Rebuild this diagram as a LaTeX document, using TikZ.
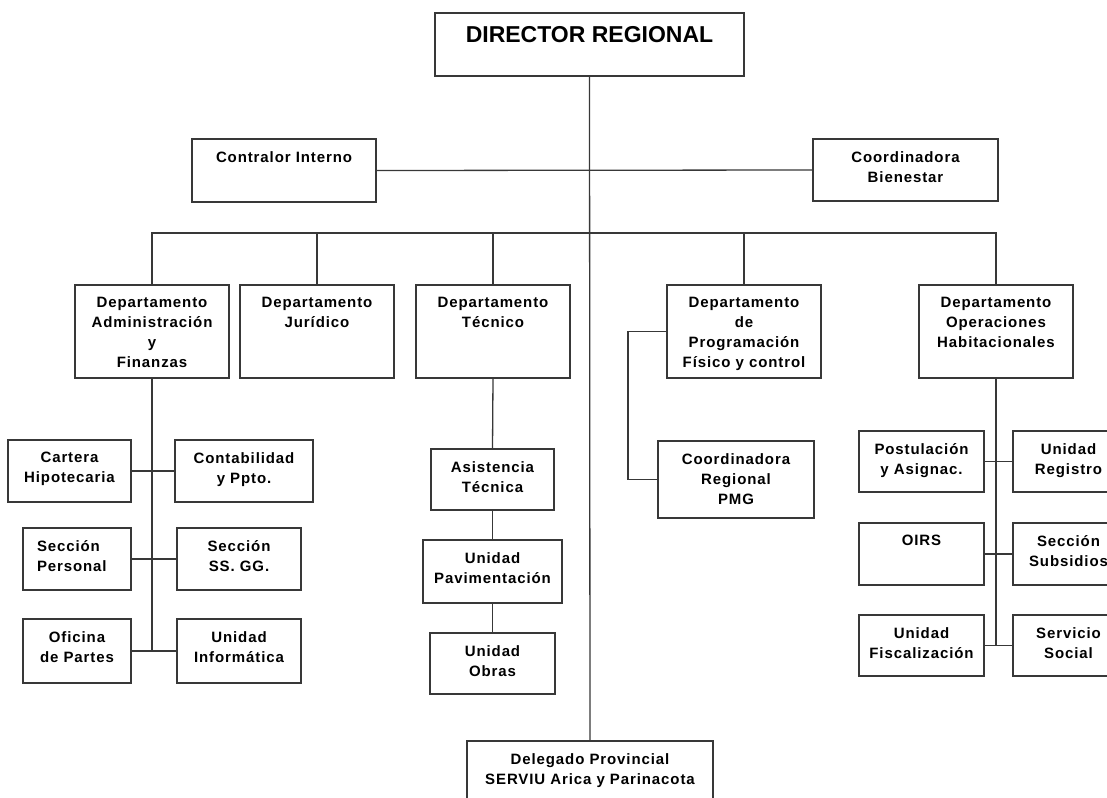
\documentclass[tikz,border=0pt]{standalone}
\usepackage{fontspec}
\setmainfont{Liberation Sans}[LetterSpace=6]
\newfontfamily\bigfont{Liberation Sans}
\begin{document}
\begin{tikzpicture}[x=1pt,y=-1pt,
  obx/.style={draw=black!78,line width=1.3pt,fill=white,inner sep=0pt,outer sep=0pt,rectangle},
  lbl/.style={inner sep=0pt,outer sep=0pt,align=center,anchor=north,
    font=\bfseries\fontsize{15}{20}\selectfont},
  con/.style={draw=black!78,line width=1.3pt}]
\clip (0,0) rectangle (1107,797);
\fill[white] (0,0) rectangle (1107,797);
\newcommand\obox[6]{%
  \node[obx,minimum width={(#4-#2)*1pt},minimum height={(#5-#3)*1pt}] (#1) at ({(#2+#4)/2},{(#3+#5)/2}) {};
  \node[lbl] (#1-t) at ({(#2+#4)/2},{#3+12.5}) {#6};}
% top
\node[obx,minimum width=309pt,minimum height=63pt] (dir) at (589.5,44.5) {};
\node[inner sep=0pt,anchor=north,font=\bigfont\bfseries\fontsize{23}{26}\selectfont] (dir-t) at (589.5,26) {DIRECTOR REGIONAL};
\obox{ctrl}{192}{139}{376}{202}{Contralor Interno}
\obox{coord}{813}{139}{998}{201}{Coordinadora\\Bienestar}
% departments
\obox{adm}{75}{285}{229}{378}{Departamento\\Administración\\y\\Finanzas}
\obox{jur}{240}{285}{394}{378}{Departamento\\Jurídico}
\obox{tec}{416}{285}{570}{378}{Departamento\\Técnico}
\obox{prog}{667}{285}{821}{378}{Departamento\\de\\Programación\\Físico y control}
\obox{ops}{919}{285}{1073}{378}{Departamento\\Operaciones\\Habitacionales}
% admin children
\obox{cart}{8}{440}{131}{502}{Cartera\\Hipotecaria}
\obox{cont}{175}{440}{313}{502}{Contabilidad\\y Ppto.}
\node[obx,minimum width=108pt,minimum height=62pt] (per) at (77,559) {};
\node[lbl,align=left,anchor=north west] (per-t) at (37,540.5) {Sección\\Personal};
\obox{ssgg}{177}{528}{301}{590}{Sección\\SS. GG.}
\obox{ofi}{23}{619}{131}{683}{Oficina\\de Partes}
\obox{inf}{177}{619}{301}{683}{Unidad\\Informática}
% tecnico children
\obox{asis}{431}{449}{554}{510}{Asistencia\\Técnica}
\obox{pav}{423}{540}{562}{603}{Unidad\\Pavimentación}
\obox{obr}{430}{633}{555}{694}{Unidad\\Obras}
% programacion child
\obox{pmg}{658}{441}{814}{518}{Coordinadora\\Regional\\PMG}
% delegado
\obox{del}{467}{741}{713}{812}{Delegado Provincial\\SERVIU Arica y Parinacota}
% operaciones children
\obox{pos}{859}{431}{984}{492}{Postulación\\y Asignac.}
\obox{reg}{1013}{431}{1124}{492}{Unidad\\Registro}
\obox{oirs}{859}{523}{984}{585}{OIRS}
\obox{sub}{1013}{523}{1124}{585}{Sección\\Subsidios}
\obox{fis}{859}{615}{984}{676}{Unidad\\Fiscalización}
\obox{soc}{1013}{615}{1124}{676}{Servicio\\Social}
% connectors
\coordinate (bus) at (589.5,233);
\draw[con] (dir.south) -- (del.north);
\draw[con] (ctrl.east) -- (coord.west);
\draw[con] (adm.north) |- (bus) -| (ops.north);
\draw[con] (jur.north) -- (jur.north |- bus);
\draw[con] (tec.north) -- (tec.north |- bus);
\draw[con] (prog.north) -- (prog.north |- bus);
\draw[con] (adm.south) -- (adm.south |- ofi.east);
\draw[con] (cart.east) -- (cont.west);
\draw[con] (per.east) -- (ssgg.west);
\draw[con] (ofi.east) -- (inf.west);
\draw[con] (tec.south) -- (asis.north);
\draw[con] (asis.south) -- (pav.north);
\draw[con] (pav.south) -- (obr.north);
\draw[con] (prog.west) -- ++(-39,0) |- (pmg.west);
\draw[con] (ops.south) -- (ops.south |- fis.east);
\draw[con] (pos.east) -- (reg.west);
\draw[con] (oirs.east) -- (sub.west);
\draw[con] (fis.east) -- (soc.west);
\end{tikzpicture}
\end{document}
